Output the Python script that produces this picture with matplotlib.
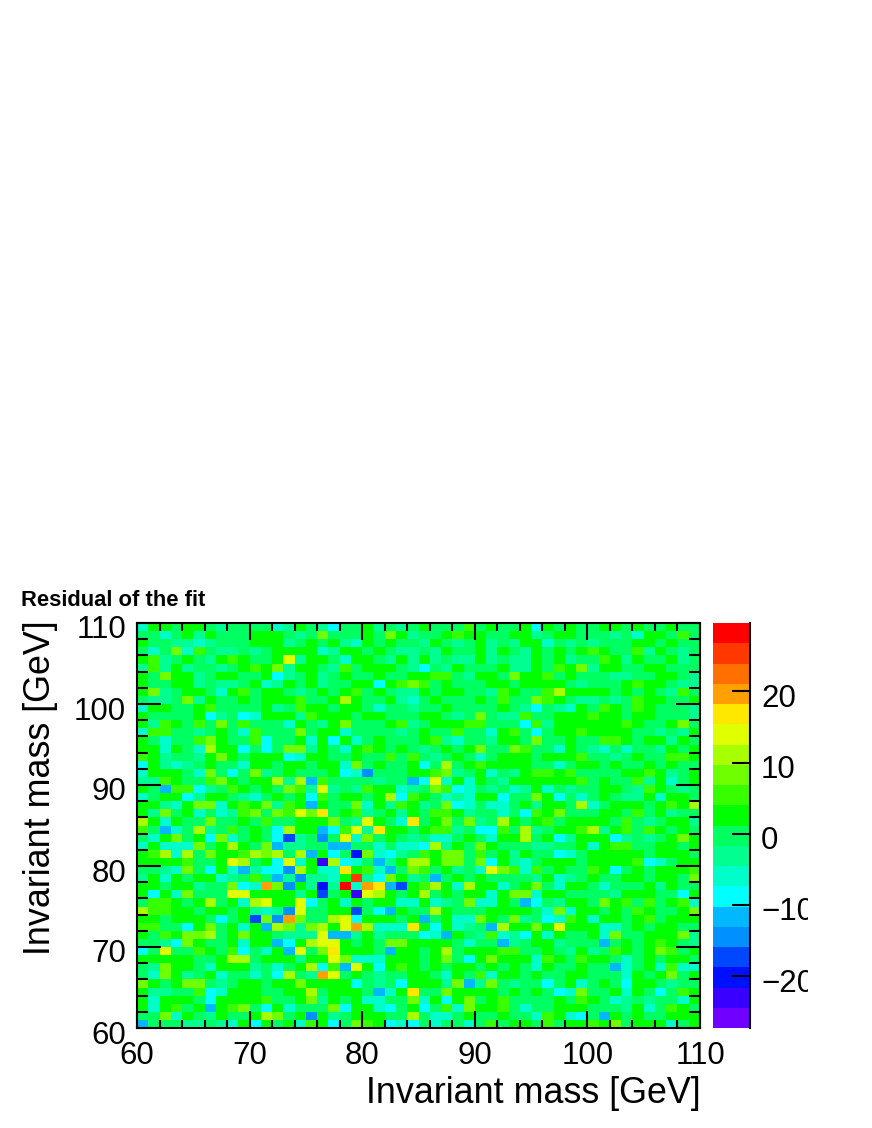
import numpy as np
import matplotlib
matplotlib.use('Agg')
import matplotlib.pyplot as plt
from matplotlib.colors import ListedColormap, BoundaryNorm
from matplotlib.ticker import MultipleLocator
from matplotlib.transforms import Bbox, ScaledTranslation

plt.rcParams['font.family'] = ['Liberation Sans', 'DejaVu Sans']

# colour bins, bottom to top of the palette
level_colors = ['#7000ff', '#3800ff', '#0010ff', '#0048ff', '#0090ff',
                '#00b8ff', '#00ffff', '#00ffc8', '#00ff90', '#00ff60',
                '#00ff00', '#38ff00', '#70ff00', '#a8ff00', '#e0ff00',
                '#ffe800', '#ffa000', '#ff7000', '#ff3800', '#ff0000']
level_codes = 'abcdefghijklmnopqrst'
z_min = -27.3
z_max = 29.6
mass_edges = np.arange(60, 111)
z_ticks = [-20, -10, 0, 10, 20]

# one letter per cell (bin of level_codes),
# first string is the top row (109-110 GeV), groups of ten columns
residual_rows = [
    'hkkjkkjijj jjhikjigjj kijijkjjjl jkjjkgkjkj jkkjkjjkjj',
    'jjhjkikjjj kkkjijmjjj kjmkijjklk kjjkkijkkj jjijhkkjlj',
    'kjjiihijjj kkkijkjkih kjkjjikjij kijikkhjij ijjjkkjkjj',
    'jhjmhljiij ijkkkkhikk jkjiijikjj kikjikjkjk lkjjlikjij',
    'klijkjiklk jjkoikkjhk kjikikijii kijiikjkij jlkikjjkij',
    'ilikijjijk lkmikkjilj kkkjigjikj jjkiikjlkm ikkjjkkjjj',
    'kjmkkijkkj jkgijkijkj jkjjkkllji kkjmkkljkj jjiijjkkji',
    'kjjkkijiij khikjkijjk kgklmljkjj jkkjkkkkji jjjklkkjii',
    'kmijkkjhkl jkkjijkjkl jkjiikjkkj jilkjjlnkk kkjkjkjilj',
    'jiijmikjjk jkkkljjknk jjkihjkjjj kjljjmlkji ijijlkkjjk',
    'hkkjjkljjj jkijlkkjkk jhjjijjkjj jjkjigjihk jlkjlkjjji',
    'kjjjjkgijg hkkkilkkkj kkjjjkkjij mjiiljjkkk lkkjkkjjji',
    'kilkjljmjl jjjhkjikmj jjklijkkkl ljjjglikkk kkklkjjkmj',
    'hlljjijkjh ljjjmjkkhj jjjijkjjlj jhkljgjkkl kkkkjjijik',
    'kjhjjlmkjj lgjjkhkgkh jkjjjklihj jikkjmjjkj jllkjkkikj',
    'kkhkjhnkkg jgjmmikjhk lkjkjijkjk mjjmljjhkj ihjhjjikjk',
    'lkijjikmkj kkkghkkjjk jjljljijkj hjkkkjkkkl jjijkjjllk',
    'gkihijkjjh kkjkkjkkhm jkjjkgjnjk lkkkkjjhjk kjkjjkjkjj',
    'hkkkjhmjgj mijkjjjkgh ejjjkklmij khjikllklj jjjkklkijk',
    'iilkjjlmkj kkninfljjj jijjfgohkh kjikkkkkkl jkjjlikhjk',
    'kjfllgijlk jkjmlioiji lkkhijmlgh jijhikhjij jkkjilkjij',
    'hjkkgikkji hjkjkgljkk jknglkjhih kkgjjmkgjh jkjiikhkkj',
    'kkihkmmhkl kmilkfkjjm hkilkijmgh jhhjkikkjn hjkkkjklkn',
    'kimjkhjhil mjmlompjkl ijkikjllki jjhjglkmjj jkkjljkijj',
    'nkhkjjmjjk jljjkkkmji okjhpjkmjm ijnkjkljkk kkjljijkki',
    'ljfhjnijlj kjgnkkfglo ipkkjkllij ggljnijkkl nikljlkjkj',
    'jhkmjkgmhj kjgdijejoh mjkjijhhjk jhkknjkgik kkgijijkmk',
    'hkhhhmjknk jmfiijjffj jhjhhgnikj mkjjjiijjk hklljjkkjk',
    'klnhnjmkkl nmnjnfkgjc mhgijlkmmj ljkikjjghj kkkkkjkkkj',
    'kkkkljjkon jkgohkbngh jfiknnkmmj mgkihjkkkj kkkklghjkk',
    'jjihmjgkhf iggenkhhpk lhfjmljkij homlhljkjj lkgjkjkkkl',
    'ikhkjkkhij ljfieiihks igmkijfjkj kjjjjikhij kjjkkjkkjm',
    'kkjkkijjmg hqmekicith qpfdklnkhn kkhjkmjhkk jhjjjkikjj',
    'kgkhmjjjoo kkkkikdjkb onkjknjkjk khkmmhkkjj jjikkkjjgk',
    'jllkjknjkh nokkogjkhk jkkhhkhijm hhkjfgjikk jmkljljklh',
    'nllkkjkkjk ihieojjkkd jgfkjjnkjj jkkkkjhmhk kjkjlkjjkm',
    'kkjkkkjgjk dmeqmjjnog kkkjkfjkhh mkjmijghlk hkkjkljkkk',
    'lljjgkmjkh kfnmimnkoq nhhhpkgkhi jfnkkmkokk khhjkjkkjj',
    'kjlkmmnjkm kkjiiioffi kijjjghfkj ilhigkhkjj khmjjkkkmi',
    'jjigmkjjkh kkfgknookj kjmmkkkkjh jjfijkkijj jfjkjklkji',
    'gjojjlkjlg jhkfojmpkk kjfkkjknjk kklljjkjik ijlkjkmljk',
    'kkkkkjjknn jkkkikkomh hhkkkjkmjg kmkkkhlkjl kkjhjkjkkj',
    'jimkkjhkkk ijhjknglfo kgklkjkjkk jkjkjhkjjk jjfhjkhlhh',
    'jhmkijkhjj hjgnjiqojk jijjkkjhkj lhkkjkjjkk jjjhkjkmjk',
    'mkjkmmjijk kjkkmkkkkg jijgkkkimf imjijjgjkh jkjgkkjijj',
    'kiijjlghkk kjjkknjkkk jfhkpjjmkk kkjkjkjghm jjkhkjgjlk',
    'khkkkjgkkk kljjkmikjk hhjjmhkgkm jkljjjjkjl kjhijijjhk',
    'khkljkfklm jgkhjjjmgk khgjkgjlhm kkljhjjkkk jjjikhjlkj',
    'jjmhkjikjj knmjkekijk kkjjnjhhjk jjkjjhlkhg jfkjkjjkkk',
    'fjjjiijihk gkjkhlkgjm lkghgjhjjh jljkkjljkk lkmjkkkhjk',
]

bin_edges = np.linspace(z_min, z_max, len(level_colors) + 1)
bin_mids = (bin_edges[:-1] + bin_edges[1:]) / 2

rows = []
for i, row in enumerate(residual_rows):
    row = row.replace(' ', '')
    if len(row) != 50:
        raise ValueError('row %d has %d cells' % (i, len(row)))
    rows.append([bin_mids[level_codes.index(c)] for c in row])
residual = np.array(rows)[::-1]

W, H = 872, 1128


def px_axes(fig, x0, x1, ytop, ybot):
    return fig.add_axes([x0 / W, 1 - ybot / H, (x1 - x0) / W, (ybot - ytop) / H])


fig = plt.figure(figsize=(W / 100, H / 100), dpi=100)
ax = px_axes(fig, 137, 700, 623, 1028)
cax = px_axes(fig, 713, 750, 623, 1028)

cmap = ListedColormap(level_colors)
norm = BoundaryNorm(bin_edges, cmap.N)
mesh = ax.pcolormesh(mass_edges, mass_edges, residual, cmap=cmap, norm=norm)

ax.set_xlim(60, 110)
ax.set_ylim(60, 110)
ax.xaxis.set_major_locator(MultipleLocator(10))
ax.xaxis.set_minor_locator(MultipleLocator(2))
ax.yaxis.set_major_locator(MultipleLocator(10))
ax.yaxis.set_minor_locator(MultipleLocator(2))
ax.tick_params(which='major', direction='in', top=True, right=True,
               length=12, width=1.5, labelsize=22.5, pad=9)
ax.tick_params(axis='y', which='major', length=17, pad=8)
ax.tick_params(which='minor', direction='in', top=True, right=True,
               length=6, width=1.5)
ax.tick_params(axis='y', which='minor', length=8)
for s in ax.spines.values():
    s.set_linewidth(1.5)

ax.set_xlabel('Invariant mass [GeV]', fontsize=25.8, loc='right')
ax.set_ylabel('Invariant mass [GeV]', fontsize=25.8, loc='top')
ax.xaxis.set_label_coords(1.001, -0.118)
ax.yaxis.set_label_coords(-0.141, 1.007)

cbar = fig.colorbar(mesh, cax=cax, ticks=z_ticks, spacing='proportional')
cbar.outline.set_visible(False)
cax.spines['right'].set_visible(True)
cax.spines['right'].set_linewidth(1.5)
cax.yaxis.set_ticks_position('right')
cax.tick_params(which='major', direction='in', length=13, width=1.5,
                labelsize=22.5, pad=8)
cax.minorticks_off()

# y labels sit a little below their ticks in the original
fig.canvas.draw()
shift_down = ScaledTranslation(0, -4 / 100, fig.dpi_scale_trans)
for lab in ax.get_yticklabels():
    lab.set_transform(lab.get_transform() + shift_down)

# the right end of the colour bar labels is cut off in the original
clip = Bbox.from_extents(0, 0, 808, H)
for lab in cax.get_yticklabels():
    lab.set_transform(lab.get_transform() + shift_down)
    lab.set_clip_box(clip)
    lab.set_clip_on(True)

fig.text(21 / W, 1 - 600 / H, 'Residual of the fit', fontsize=15.8,
         fontweight='bold', ha='left', va='center')

fig.savefig('out.png', dpi=100)
